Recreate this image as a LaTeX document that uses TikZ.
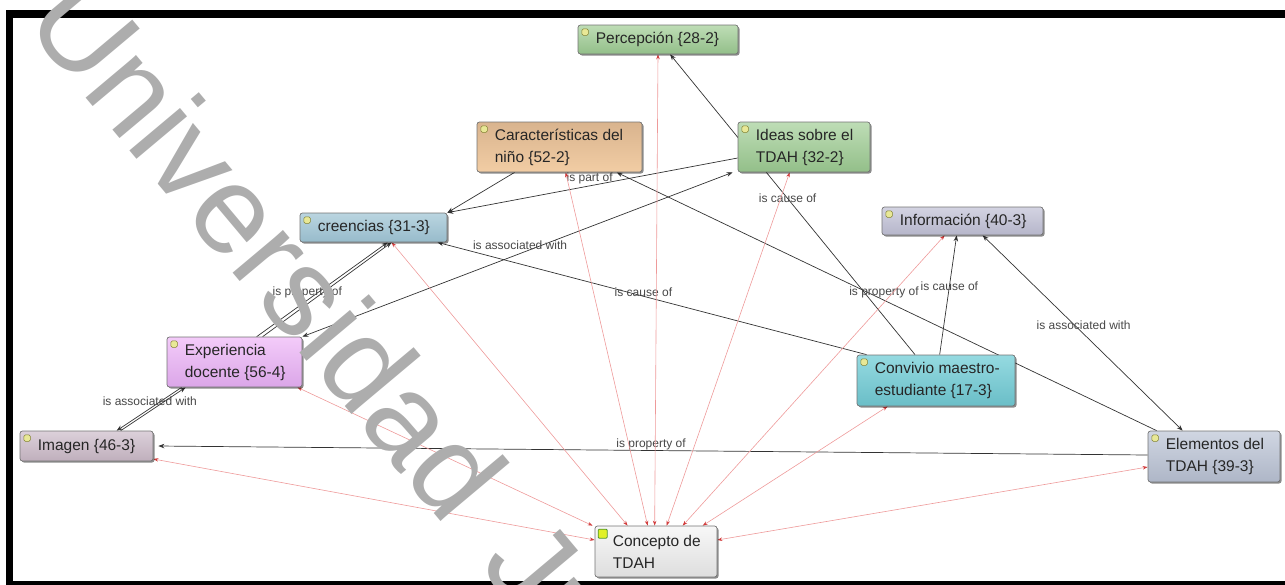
\documentclass[tikz,border=0pt]{standalone}
\usepackage{fontspec}
\setmainfont{Liberation Sans}
\usetikzlibrary{arrows.meta,shadows}
\pgfdeclarelayer{bg}
\pgfsetlayers{bg,main}

\definecolor{grtop}{HTML}{BEDDB6}
\definecolor{grbot}{HTML}{93BF89}
\definecolor{tntop}{HTML}{D9B48E}
\definecolor{tnbot}{HTML}{F2CDA4}
\definecolor{bltop}{HTML}{BAD5E0}
\definecolor{blbot}{HTML}{97BBCB}
\definecolor{lvtop}{HTML}{D3D3E2}
\definecolor{lvbot}{HTML}{B6B6CA}
\definecolor{pktop}{HTML}{F3CBF9}
\definecolor{pkbot}{HTML}{DBA6E8}
\definecolor{cytop}{HTML}{95DAE1}
\definecolor{cybot}{HTML}{6ABEC7}
\definecolor{mvtop}{HTML}{DCD0DA}
\definecolor{mvbot}{HTML}{BFAFBC}
\definecolor{sltop}{HTML}{D0D6E2}
\definecolor{slbot}{HTML}{AEB6C7}
\definecolor{wttop}{HTML}{F7F7F7}
\definecolor{wtbot}{HTML}{DEDEDE}
\definecolor{redline}{HTML}{EE9A9A}
\definecolor{redtip}{HTML}{D23C3C}
\definecolor{linkgray}{HTML}{333333}

% one concept box: name, centre, width, height, top colour, bottom colour, text
\newcommand\mkbox[7]{%
  \node[boxbase, minimum width=#3, minimum height=#4, top color=#5, bottom color=#6] (#1) at #2 {};
  \node[ctext, anchor=west] (#1-t) at ([xshift=18]#1.west) {#7};
  \node[icon] (#1-i) at ([xshift=7.5,yshift=-7.5]#1.north west) {};
}

\begin{document}
\begin{tikzpicture}[x=1pt, y=-1pt,
  boxbase/.style={draw=black!55, line width=0.7pt, rounded corners=2.5pt, inner sep=0pt,
    drop shadow={shadow xshift=1.5pt, shadow yshift=-1.5pt, fill=black, opacity=0.45}},
  ctext/.style={font=\fontsize{15.5}{22}\selectfont, text=black!85, align=left, inner sep=0pt},
  icon/.style={minimum size=6.5pt, inner sep=0pt, rounded corners=1.5pt, line width=0.6pt,
    fill={rgb,255:red,232;green,232;blue,150}, draw={rgb,255:red,130;green,130;blue,50}},
  bigicon/.style={minimum size=9pt, inner sep=0pt, rounded corners=1pt, line width=0.8pt,
    fill={rgb,255:red,225;green,240;blue,40}, draw={rgb,255:red,80;green,150;blue,40}},
  link/.style={draw=linkgray, line width=0.7pt, -{Stealth[length=6pt,width=4.5pt]}},
  biglink/.style={draw=linkgray, line width=0.7pt, {Stealth[length=6pt,width=4.5pt]}-{Stealth[length=6pt,width=4.5pt]}},
  rlink/.style={draw=redline, line width=0.6pt,
    {Stealth[length=5pt,width=3.5pt,color=redtip]}-{Stealth[length=5pt,width=3.5pt,color=redtip]}},
  lbl/.style={font=\fontsize{12}{12}\selectfont, text=black!72, inner sep=0pt},
  frame/.style={line width=7.5pt, draw=black},
  wm/.style={font=\fontsize{125}{125}\selectfont, text=black!32, inner sep=0pt}
]
\useasboundingbox (0,0) rectangle (1285,584);

% thick page frame
\draw[frame] (1300,14) -- (9.5,14) -- (9.5,585) -- (1300,585);

% concept boxes
\mkbox{per}{(658,39.5)}{160}{29}{grtop}{grbot}{Percepción \{28-2\}}
\mkbox{car}{(559.5,147)}{165}{50}{tntop}{tnbot}{Características del\\niño \{52-2\}}
\mkbox{ide}{(804,147)}{132}{50}{grtop}{grbot}{Ideas sobre el\\TDAH \{32-2\}}
\mkbox{cre}{(373.5,227.5)}{147}{29}{bltop}{blbot}{creencias \{31-3\}}
\mkbox{inf}{(962.5,221)}{161}{28}{lvtop}{lvbot}{Información \{40-3\}}
\mkbox{exp}{(234.5,362)}{135}{50}{pktop}{pkbot}{Experiencia\\docente \{56-4\}}
\mkbox{con}{(936,380.5)}{158}{51}{cytop}{cybot}{Convivio maestro-\\estudiante \{17-3\}}
\mkbox{ima}{(86.5,446)}{133}{30}{mvtop}{mvbot}{Imagen \{46-3\}}
\mkbox{ele}{(1214,456.5)}{132}{51}{sltop}{slbot}{Elementos del\\TDAH \{39-3\}}
\node[boxbase, minimum width=122, minimum height=51, top color=wttop, bottom color=wtbot] (cpt) at (656,551.5) {};
\node[ctext, anchor=west] (cpt-t) at ([xshift=18]cpt.west) {Concepto de\\TDAH};
\node[bigicon] (cpt-i) at ([xshift=8,yshift=-8]cpt.north west) {};

\begin{pgfonlayer}{bg}
% named relations
\draw[link] (con) -- node[lbl, pos=0.52] {is cause of} (per);
\draw[link] ([xshift=38]car.south west) -- (cre.north east);
\draw[link] ([yshift=-11]ide.west) -- node[lbl, pos=0.51, yshift=7] {is part of} (cre.north east);
\draw[link] ([xshift=9]ele.north west) -- node[lbl, pos=0.505, yshift=8] {is property of} ([xshift=140]car.south west);
\draw[biglink] ([xshift=-5]ide.south west) -- node[lbl, pos=0.494, yshift=8] {is associated with} (exp.north east);
\draw[link] ([xshift=10]con.north west) -- node[lbl, pos=0.52, yshift=4] {is cause of} ([xshift=-10]cre.south east);
\draw[link] ([xshift=90]exp.north west) -- ([xshift=88]cre.south west);
\draw[link] ([xshift=96]exp.north west) -- node[lbl, pos=0.47, xshift=-16] {is property of} ([xshift=92]cre.south west);
\draw[link] ([xshift=15]exp.south west) -- node[lbl, pos=0.32, xshift=-11] {is associated with} ([xshift=97]ima.north west);
\draw[link] ([xshift=101]ima.north west) -- ([xshift=19]exp.south west);
\draw[link] ([yshift=1.5]ele.west) -- node[lbl, pos=0.502, yshift=6.5] {is property of} ([xshift=5]ima.east);
\draw[link] ([xshift=83]con.north west) -- node[lbl, pos=0.57] {is cause of} ([xshift=75]inf.south west);
\draw[biglink] ([xshift=35]ele.north west) -- node[lbl, pos=0.54, xshift=9] {is associated with} ([xshift=101]inf.south west);

% links to the central concept
\draw[rlink] (per.south) -- ([xshift=60]cpt.north west);
\draw[rlink] ([xshift=89]car.south west) -- ([xshift=53]cpt.north west);
\draw[rlink] ([xshift=52]ide.south west) -- ([xshift=72]cpt.north west);
\draw[rlink] ([xshift=92]cre.south west) -- ([xshift=33]cpt.north west);
\draw[rlink] ([xshift=63]inf.south west) -- ([xshift=88]cpt.north west);
\draw[rlink] ([xshift=-5]exp.south east) -- ([xshift=-2]cpt.north west);
\draw[rlink] ([xshift=31]con.south west) -- ([xshift=108]cpt.north west);
\draw[rlink] ([yshift=-13]ima.east) -- ([yshift=11.5]cpt.west);
\draw[rlink] ([yshift=-10.5]ele.west) -- ([yshift=11.5]cpt.east);
\end{pgfonlayer}

% diagonal watermark over the map
\node[wm, rotate=-50, anchor=base west] (wm) at (22,22) {Universidad\hspace{0.4em}Juárez};
\end{tikzpicture}
\end{document}
